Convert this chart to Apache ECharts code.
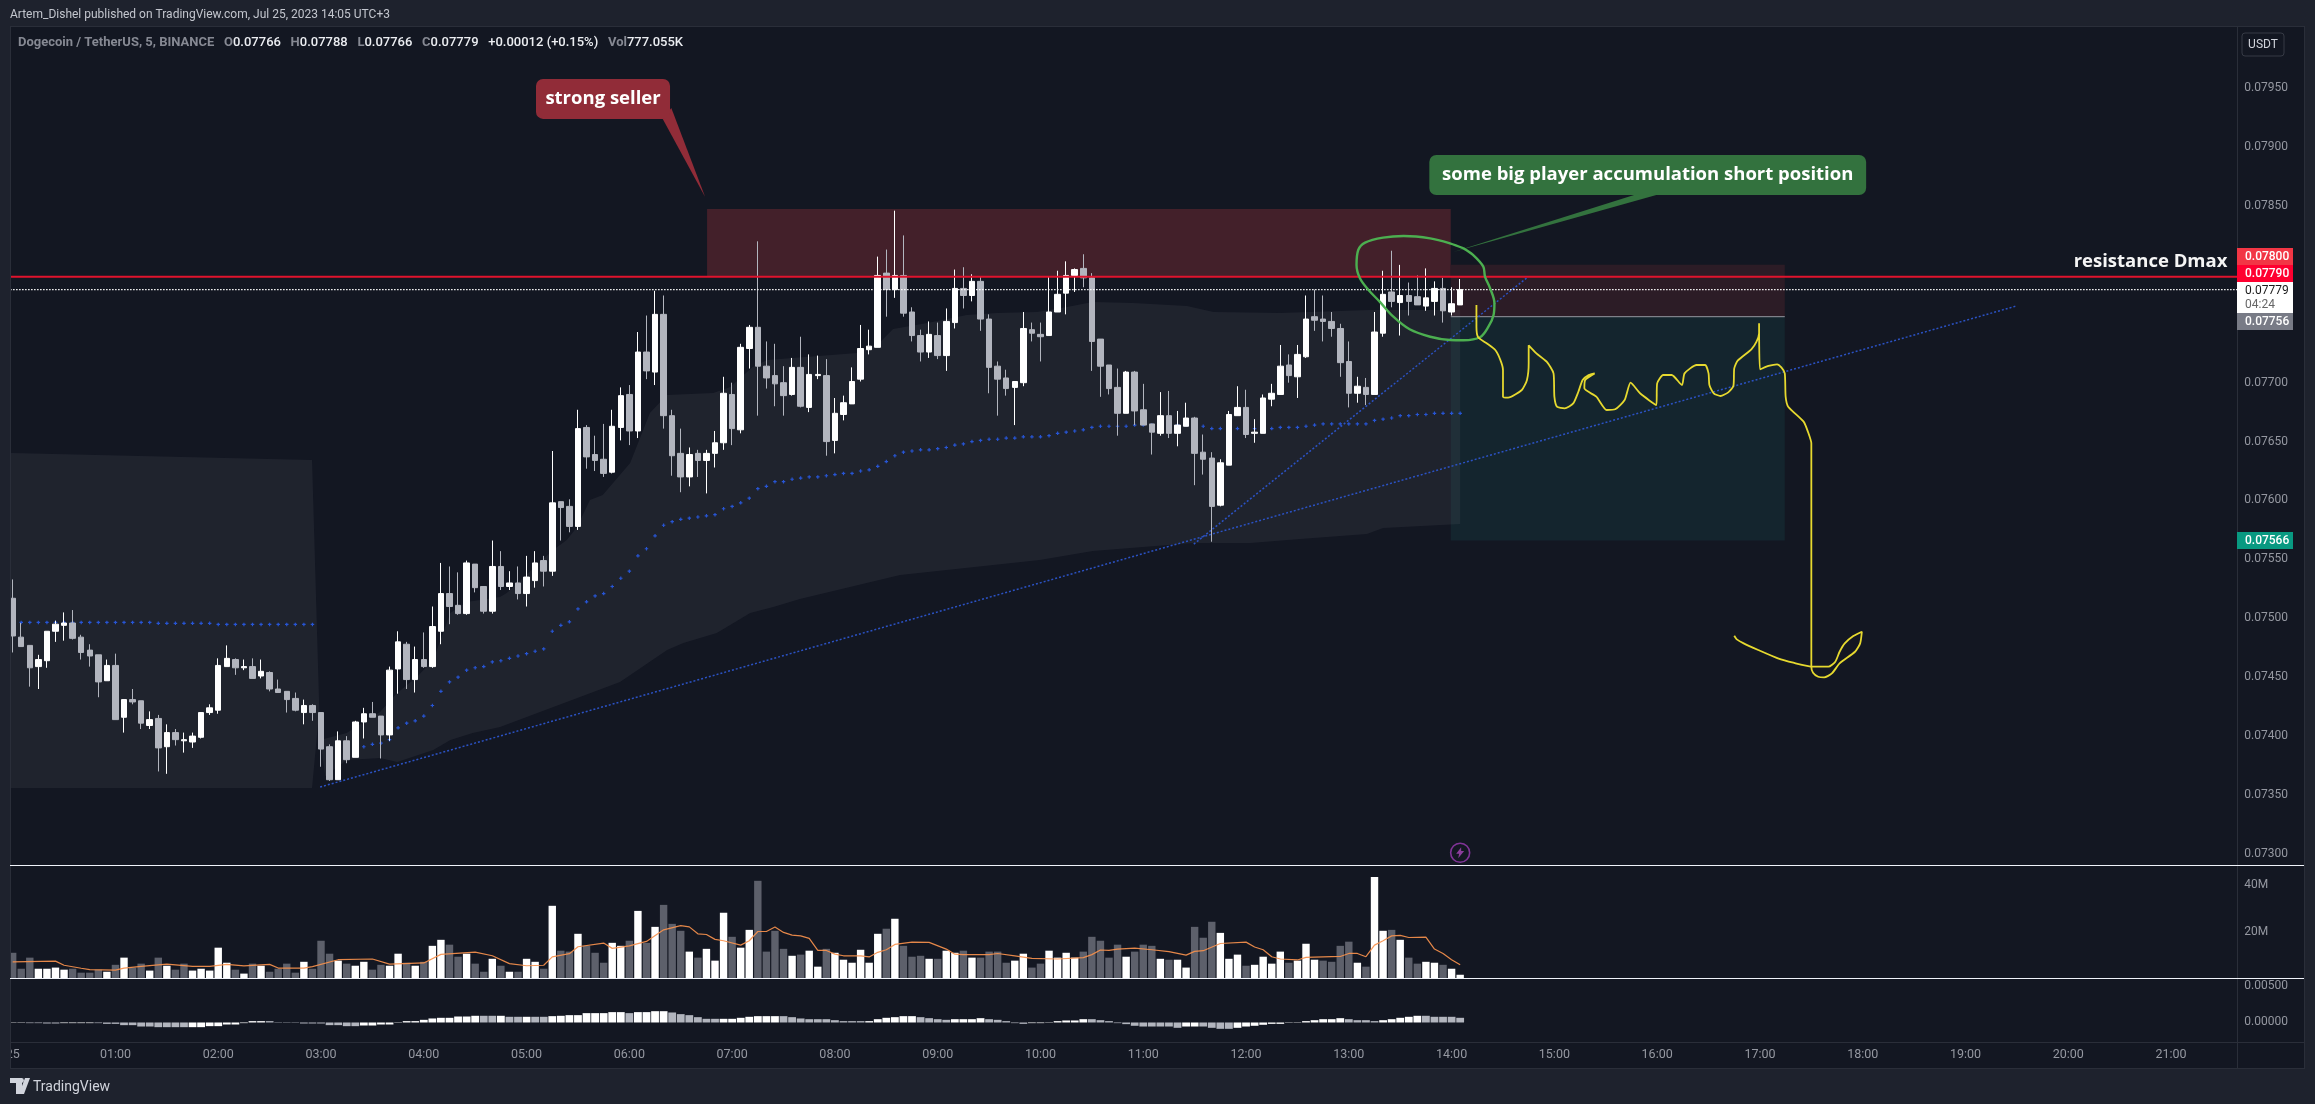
<!DOCTYPE html>
<html><head><meta charset="utf-8">
<style>html,body{margin:0;padding:0;background:#1e222d}#c{width:2315px;height:1104px}</style>
<script src="https://cdn.jsdelivr.net/npm/echarts@6/dist/echarts.min.js"></script>
</head><body><div id="c"></div>
<script>
const hourLabels=['25','01:00','02:00','03:00','04:00','05:00','06:00','07:00','08:00','09:00','10:00','11:00','12:00','13:00','14:00','15:00','16:00','17:00','18:00','19:00','20:00','21:00'];
const priceTicks=[0.0795,0.079,0.0785,0.077,0.0765,0.076,0.0755,0.075,0.0745,0.074,0.0735,0.073];
const volumeTicks=[20,40];
const oscTicks=[0,0.005];

const opens=[0.07517,0.07484,0.07477,0.07459,0.07464,0.07489,0.07494,0.07496,0.07484,0.07473,0.07469,0.07447,0.0746,0.07416,0.07431,0.0743,0.07409,0.07415,0.07391,0.07403,0.07396,0.07395,0.07399,0.0742,0.07422,0.07459,0.07465,0.07458,0.07459,0.07451,0.07454,0.0744,0.07438,0.07432,0.0742,0.07426,0.0742,0.07391,0.07363,0.07396,0.07382,0.07412,0.07419,0.07417,0.07401,0.07457,0.07478,0.07448,0.07465,0.07459,0.07489,0.07521,0.07511,0.07504,0.07546,0.07527,0.07506,0.07544,0.07527,0.0753,0.07521,0.07532,0.07549,0.0754,0.07599,0.07595,0.07578,0.07662,0.07639,0.07635,0.07624,0.07662,0.0769,0.07659,0.07726,0.07709,0.07758,0.07672,0.0764,0.0762,0.0764,0.07634,0.0764,0.07649,0.0769,0.0766,0.07729,0.07747,0.07714,0.07706,0.077,0.0769,0.07713,0.07679,0.07706,0.07706,0.07651,0.07673,0.07682,0.07703,0.07728,0.0773,0.07793,0.07779,0.07791,0.0776,0.0774,0.07726,0.0774,0.07723,0.07751,0.0778,0.07774,0.07786,0.07754,0.07714,0.07704,0.07696,0.077,0.07745,0.07741,0.0774,0.0776,0.07776,0.07791,0.07797,0.07789,0.07737,0.07715,0.07696,0.07674,0.07709,0.07677,0.07665,0.07657,0.07672,0.07657,0.07663,0.0767,0.07641,0.07636,0.07596,0.0763,0.07672,0.07679,0.07657,0.07657,0.07686,0.0769,0.07715,0.07705,0.07722,0.07756,0.07754,0.07752,0.07746,0.07718,0.07691,0.07696,0.0769,0.07742,0.07777,0.07768,0.07774,0.07773,0.07765,0.07769,0.0778,0.0776,0.07766];
const closes=[0.07485,0.07476,0.07458,0.07465,0.07489,0.07495,0.07496,0.07483,0.07471,0.07468,0.07446,0.0746,0.07414,0.07431,0.07429,0.07411,0.07414,0.0739,0.07403,0.07397,0.07397,0.074,0.0742,0.07424,0.0746,0.07466,0.07458,0.07459,0.07449,0.07455,0.0744,0.07437,0.07431,0.07422,0.07426,0.0742,0.07389,0.07363,0.07396,0.0738,0.07412,0.07419,0.07416,0.07401,0.07456,0.0748,0.07448,0.07465,0.07459,0.07493,0.07521,0.0751,0.07504,0.07547,0.07526,0.07506,0.07544,0.07527,0.0753,0.07521,0.07535,0.07547,0.0754,0.07598,0.07594,0.07578,0.07661,0.07637,0.07634,0.07623,0.07663,0.07689,0.07659,0.07726,0.0771,0.07758,0.07672,0.07638,0.0762,0.07639,0.07634,0.0764,0.07649,0.07691,0.07661,0.0773,0.07747,0.07714,0.07704,0.07699,0.07689,0.07713,0.0768,0.07707,0.07707,0.0765,0.07674,0.07683,0.07701,0.07729,0.07731,0.07791,0.07779,0.07791,0.07759,0.0774,0.07726,0.07741,0.07723,0.07752,0.0778,0.07774,0.07786,0.07754,0.07713,0.07703,0.07695,0.07701,0.07746,0.07742,0.07739,0.0776,0.07775,0.07791,0.07796,0.07789,0.07735,0.07714,0.07695,0.07674,0.07709,0.07676,0.07664,0.07658,0.07672,0.07657,0.07664,0.0767,0.0764,0.07635,0.07595,0.07632,0.07673,0.07679,0.07656,0.07658,0.07687,0.07691,0.07714,0.07706,0.07724,0.07754,0.07753,0.07752,0.07746,0.07717,0.07691,0.07697,0.0769,0.07743,0.07775,0.07769,0.07774,0.07769,0.07766,0.07772,0.0778,0.07761,0.07767,0.07779];
const lows=[0.07471,0.07476,0.07442,0.0744,0.07458,0.0748,0.07481,0.07482,0.07465,0.07459,0.07433,0.07447,0.07414,0.07403,0.07427,0.07406,0.07406,0.0737,0.07368,0.07392,0.07386,0.0739,0.07398,0.07418,0.07419,0.07459,0.07452,0.07456,0.07449,0.07449,0.07438,0.07437,0.0742,0.07421,0.0741,0.07413,0.07374,0.07362,0.07363,0.07377,0.07382,0.07398,0.07416,0.07381,0.07396,0.07436,0.0744,0.07437,0.07458,0.07458,0.07478,0.07495,0.07503,0.07503,0.07522,0.07504,0.07504,0.07524,0.07524,0.07516,0.0751,0.07526,0.07527,0.07536,0.07566,0.07573,0.07575,0.07627,0.07625,0.0762,0.07623,0.07651,0.07647,0.07653,0.07703,0.07698,0.07661,0.07621,0.07607,0.07612,0.0762,0.07606,0.07628,0.07643,0.07647,0.07657,0.07712,0.07672,0.07695,0.0768,0.07672,0.07689,0.07679,0.07675,0.07703,0.07638,0.0764,0.07668,0.07682,0.07701,0.07724,0.0773,0.07756,0.07772,0.07756,0.07735,0.07718,0.07721,0.0772,0.0771,0.07746,0.07763,0.07769,0.07744,0.07691,0.07672,0.07689,0.07664,0.07697,0.07735,0.07718,0.0774,0.0776,0.07758,0.07777,0.07781,0.0771,0.07688,0.0769,0.07655,0.07674,0.07664,0.07664,0.07639,0.07655,0.07653,0.07646,0.07663,0.07613,0.07622,0.07565,0.07595,0.0763,0.07672,0.07653,0.07649,0.07657,0.0768,0.0769,0.077,0.07687,0.07721,0.07744,0.07735,0.07739,0.07705,0.07679,0.07683,0.07681,0.0769,0.07739,0.07764,0.0774,0.07757,0.07766,0.07761,0.07757,0.07751,0.07757,0.07766];
const highs=[0.07533,0.07496,0.07477,0.07469,0.07489,0.07498,0.07505,0.07507,0.07486,0.07478,0.07469,0.07465,0.0747,0.07431,0.0744,0.0743,0.07421,0.07418,0.0741,0.07406,0.07403,0.07403,0.0742,0.07427,0.07466,0.07477,0.07466,0.07465,0.07466,0.07465,0.07455,0.07448,0.07438,0.07437,0.07431,0.07427,0.0742,0.07393,0.07404,0.074,0.07413,0.07424,0.07429,0.07417,0.07459,0.07489,0.0748,0.07476,0.07488,0.0751,0.07547,0.07544,0.07539,0.07549,0.07546,0.07527,0.07566,0.07557,0.0754,0.07544,0.07553,0.07557,0.07553,0.07642,0.07599,0.07601,0.07677,0.07664,0.07655,0.07665,0.07677,0.07696,0.07698,0.07743,0.07757,0.07778,0.07774,0.07677,0.07661,0.07645,0.07643,0.07643,0.07659,0.07705,0.077,0.07733,0.07749,0.0782,0.07735,0.07733,0.07714,0.07721,0.07739,0.07724,0.07723,0.0772,0.07687,0.07689,0.07713,0.07749,0.07745,0.07807,0.07813,0.07846,0.07825,0.07764,0.07745,0.07752,0.07751,0.07763,0.07796,0.07798,0.07792,0.0779,0.07758,0.07718,0.07711,0.07701,0.0776,0.07751,0.07751,0.0779,0.07795,0.07803,0.07797,0.07809,0.07793,0.07737,0.07715,0.07712,0.0771,0.0771,0.07699,0.07665,0.07692,0.07693,0.07676,0.07683,0.07671,0.07656,0.07641,0.07635,0.07676,0.07697,0.07694,0.07669,0.0769,0.07699,0.07732,0.07724,0.07732,0.07774,0.07779,0.07774,0.0776,0.0775,0.07735,0.07705,0.07704,0.0776,0.07795,0.07812,0.078,0.07785,0.07791,0.07797,0.07786,0.07789,0.07781,0.07788];
const volumes=[10.9,4.0,8.8,4.0,4.0,4.5,3.6,4.0,2.3,2.3,3.6,2.7,5.7,8.8,4.5,6.2,3.2,8.8,5.3,3.6,6.2,3.2,4.0,3.2,13.1,6.6,3.6,1.9,6.2,5.3,2.7,4.0,6.2,2.3,7.0,4.0,16.1,10.5,7.5,6.2,5.3,7.0,3.6,5.7,5.3,10.5,6.6,5.3,7.0,13.9,16.5,14.4,9.2,10.5,6.2,2.7,8.3,5.3,2.7,2.7,8.3,7.0,4.0,31.2,11.8,11.4,19.1,13.9,10.9,6.6,15.2,13.9,16.1,29.0,15.2,22.1,31.6,23.4,20.4,11.4,8.8,12.6,7.5,28.2,17.8,13.1,20.8,42.0,11.4,20.4,12.6,9.6,10.1,11.8,4.9,12.6,10.9,7.9,6.6,12.2,6.6,19.1,21.3,25.6,13.9,9.2,9.6,8.3,8.3,11.8,10.9,11.8,8.8,8.8,11.4,11.4,6.6,7.5,10.5,4.5,6.2,11.8,8.8,10.9,8.8,11.4,17.8,16.1,8.8,14.4,9.2,11.4,14.4,13.9,8.3,7.9,7.9,4.5,22.1,17.4,24.3,19.5,8.3,10.1,5.3,5.7,9.2,6.2,11.4,6.6,7.5,14.8,7.9,7.5,7.0,13.9,15.7,6.6,4.9,43.7,20.4,20.8,16.5,8.8,6.2,7.0,6.6,5.7,4.0,1.4];
const volumeColorExceptions=[20,152];
const volumeMaBars=[0,5,6,8,9,12,13,15,18,21,23,25,27,30,31,34,35,38,42,44,48,50,54,56,58,60,62,63,65,66,69,70,72,74,76,78,79,80,81,82,83,85,86,87,88,89,90,91,92,93,94,95,96,97,99,100,101,102,103,105,107,109,110,111,114,115,117,119,122,125,126,127,128,129,131,133,135,137,138,139,141,144,145,146,147,148,150,151,154,155,156,157,158,159,160,161,162,163,165,166,167,168,169];
const volumeMaValues=[7.0,7.3,5.5,4.2,3.6,3.4,4.3,5.0,6.0,5.0,5.0,5.9,5.2,5.9,4.3,4.3,4.9,7.9,8.2,6.0,6.5,10.2,11.2,9.6,6.2,5.3,5.5,9.1,10.5,13.5,15.1,12.8,13.9,15.8,20.8,22.6,22.1,19.1,18.8,16.7,16.1,14.2,16.1,20.1,20.1,22.0,19.7,18.5,18.2,17.1,11.9,11.9,10.3,9.6,9.6,9.1,11.1,12.2,14.5,15.5,15.4,12.5,10.3,10.1,10.1,10.6,9.6,8.5,8.2,8.8,10.1,12.1,11.9,12.5,12.9,12.2,11.4,9.9,11.5,11.8,14.9,15.5,13.4,12.2,9.2,8.2,7.8,8.9,9.2,9.3,10.6,10.6,9.2,14.2,16.1,18.2,18.4,17.5,17.7,12.5,10.6,7.9,5.7];
const oscValues=[-0.00005,-0.00005,-0.00009,-0.00009,-0.00014,-0.00014,-0.00009,-0.00009,-0.00009,-0.00009,-0.00009,-0.00019,-0.00019,-0.00037,-0.00037,-0.00056,-0.00056,-0.00065,-0.00065,-0.00065,-0.00065,-0.00065,-0.00065,-0.00051,-0.00051,-0.00028,-0.00028,-0.00009,0.00019,0.00019,0.00019,0.00005,0.00005,0.00005,-0.00014,-0.00014,-0.00014,-0.00037,-0.00037,-0.00051,-0.00051,-0.00042,-0.00042,-0.00028,-0.00028,-0.00005,0.00019,0.00019,0.00037,0.00056,0.00065,0.00065,0.00083,0.00083,0.00093,0.00093,0.00093,0.00093,0.00079,0.00079,0.00079,0.00079,0.00079,0.00088,0.00093,0.00102,0.00102,0.0013,0.0013,0.0013,0.00144,0.00144,0.0013,0.00144,0.00144,0.00157,0.00157,0.00139,0.00116,0.00102,0.00074,0.00051,0.00051,0.00051,0.00051,0.00065,0.00079,0.00088,0.00088,0.00088,0.00088,0.00074,0.00056,0.00046,0.00046,0.00046,0.00032,0.00019,0.00019,0.00019,0.00019,0.00046,0.00065,0.00074,0.00088,0.00088,0.00074,0.0006,0.00046,0.00037,0.00046,0.00046,0.00046,0.0006,0.00046,0.00037,0.00019,-0.00009,-0.00019,-0.00009,-0.00009,0.00005,0.00019,0.00028,0.00028,0.00046,0.00046,0.00032,0.00019,-0.00009,-0.00023,-0.00046,-0.00056,-0.00056,-0.00056,-0.00056,-0.00074,-0.00056,-0.00056,-0.00056,-0.00074,-0.00088,-0.00088,-0.00074,-0.00056,-0.00046,-0.00032,-0.00019,-0.00019,-0.00005,0.00005,0.00019,0.00032,0.00046,0.00046,0.0006,0.00046,0.00032,0.00032,0.00019,0.00032,0.00046,0.00065,0.00079,0.00093,0.00093,0.00079,0.00079,0.00079,0.00065];
const oscFadingRanges=[[2,5],[10,20],[30,40],[55,56],[58,59],[61,62],[72,72],[77,82],[90,99],[106,109],[114,118],[126,136],[139,142],[156,159],[165,169]];

const vwapFirstBars=[1,35];
const vwapFirst=[0.074965,0.074965,0.074965,0.074965,0.074965,0.074965,0.074965,0.074965,0.074965,0.074965,0.074965,0.074965,0.074965,0.074965,0.074965,0.074965,0.074957,0.074957,0.074957,0.074957,0.074957,0.074957,0.074957,0.074948,0.074948,0.074948,0.074948,0.074948,0.074948,0.074948,0.074948,0.074948,0.074948,0.074948,0.074948];
const vwapSecondStart=41;
const vwapSecond=[0.07391,0.07393,0.07394,0.07397,0.07407,0.07411,0.07413,0.07417,0.07426,0.07438,0.07446,0.0745,0.07456,0.07458,0.07459,0.07463,0.07464,0.07466,0.07468,0.0747,0.07472,0.07474,0.07489,0.07494,0.07497,0.07508,0.07514,0.07519,0.07521,0.07527,0.07534,0.0754,0.07553,0.07559,0.0757,0.07579,0.07582,0.07584,0.07585,0.07586,0.07587,0.07588,0.07593,0.07595,0.07598,0.07602,0.0761,0.07612,0.07616,0.07616,0.07618,0.07619,0.0762,0.0762,0.07621,0.07622,0.07623,0.07623,0.07625,0.07626,0.07629,0.07633,0.07638,0.07641,0.07642,0.07643,0.07643,0.07644,0.07645,0.07647,0.07648,0.0765,0.07651,0.07652,0.07652,0.07653,0.07653,0.07654,0.07654,0.07654,0.07655,0.07657,0.07658,0.07659,0.0766,0.07662,0.07663,0.07663,0.07663,0.07663,0.07664,0.07664,0.07664,0.07664,0.07664,0.07664,0.07664,0.07664,0.07663,0.07661,0.07661,0.07661,0.07661,0.07661,0.07661,0.07661,0.07661,0.07662,0.07662,0.07662,0.07663,0.07664,0.07665,0.07665,0.07665,0.07665,0.07665,0.07665,0.07668,0.07669,0.0767,0.07672,0.07672,0.07673,0.07673,0.07674,0.07674,0.07674,0.07674];

const bandOne=[[-0.2,0.076403],[34.95,0.076344],[35.8,0.074222],[34.95,0.07356],[-0.2,0.07356]];
const bandTwoUpper=[[35.9,0.073967],[39,0.074026],[42.9,0.074205],[44.9,0.074366],[47.2,0.074502],[49.1,0.074646],[51.1,0.075045],[53,0.075138],[56.9,0.075181],[57.7,0.075215],[63.1,0.07558],[64.7,0.075665],[65.9,0.075775],[67.4,0.076004],[68.9,0.076047],[72.1,0.076318],[74.4,0.076743],[76.4,0.076896],[81.8,0.076913],[83.8,0.076963],[86.4,0.077133],[88.1,0.077193],[89.6,0.077201],[98.6,0.077252],[101.3,0.077346],[102.8,0.077456],[106.8,0.077507],[111.4,0.077575],[114.9,0.077592],[119.6,0.0776],[123.1,0.077643],[126.1,0.077685],[130.8,0.077677],[137.1,0.077651],[140.2,0.0776],[148,0.077592],[158.5,0.077617],[169,0.077617]];
const bandTwoLower=[[169,0.0758],[160,0.075767],[158.1,0.075716],[150.3,0.075673],[144.5,0.075639],[137.8,0.075639],[126.1,0.075571],[119.9,0.075495],[103.6,0.075368],[91.9,0.075164],[88.8,0.075096],[86.1,0.075045],[82.2,0.074875],[78.3,0.07479],[76.4,0.074731],[70.9,0.07446],[56.9,0.074077],[53.7,0.074026],[51.1,0.073967],[49.1,0.073882],[44.9,0.07378],[42.9,0.073814],[39,0.073797],[36.5,0.07366]];

const sellerZoneBars=[81.07,167.9];
const sellerZonePrices=[0.0779,0.078475];
const positionBars=[167.9,206.9];
const positionTop=0.078;
const positionEntry=0.07756;
const positionTarget=0.07566;
const resistancePrice=0.0779;
const lastPrice=0.07779;
const trendOne=[[35.9,0.073568],[233.9,0.07765]];
const trendTwo=[[137.9,0.07563],[176.9,0.077897]];
const ellipse=[[169.4,0.07814],[167.8,0.078183],[165.5,0.078225],[162.4,0.078245],[160,0.078231],[157.9,0.078189],[157.1,0.078126],[156.9,0.077999],[157.3,0.077886],[158.3,0.077787],[159.6,0.077688],[161.2,0.07756],[163.1,0.077453],[165.5,0.07739],[167.8,0.077362],[169.4,0.07736],[171.3,0.077385],[172.3,0.077475],[172.9,0.077574],[173,0.077674],[172.5,0.077801],[171.9,0.0779],[171.7,0.077985],[170.5,0.078084],[169.4,0.07814]];
const pathSketch=[[170.9,0.077659],[170.9,0.077475],[171.1,0.077385],[172.1,0.077334],[173.1,0.077277],[173.7,0.077192],[174,0.077108],[174,0.076881],[174.6,0.076873],[176.2,0.076938],[176.8,0.077023],[177,0.077164],[177,0.077317],[177.9,0.077249],[179.1,0.077178],[179.9,0.077079],[180,0.076881],[180.3,0.076796],[181.2,0.076782],[182.2,0.076824],[182.8,0.076923],[183.3,0.077023],[184,0.077065],[184.7,0.077079],[183.6,0.077023],[183.5,0.076952],[184.9,0.076881],[186.1,0.076768],[187.1,0.076774],[188.2,0.076853],[188.9,0.077],[190,0.07691],[191.9,0.07681],[192,0.076994],[192.7,0.077065],[193.7,0.077065],[194.9,0.07698],[195.2,0.077079],[196.6,0.07715],[197.6,0.07715],[198,0.077079],[198.1,0.07698],[198.6,0.07691],[199.4,0.076887],[200.3,0.076918],[200.9,0.076972],[201,0.077122],[201.4,0.077187],[203,0.077283],[203.6,0.077348],[203.9,0.077419],[203.9,0.077504],[204,0.077113],[205,0.077142],[206,0.077156],[206.5,0.07713],[206.9,0.077079],[207,0.076881],[207.3,0.076796],[209.1,0.076669],[209.6,0.076584],[210,0.076485],[210,0.074589],[210.2,0.074538],[210.8,0.074504],[211.5,0.074498],[212.4,0.074532],[213.3,0.074617],[215.1,0.074716],[215.7,0.074787],[215.9,0.074886],[214.9,0.074849],[213.9,0.074787],[213.3,0.074716],[212.8,0.074631],[212,0.074589],[210.2,0.074589],[207.9,0.074623],[206.1,0.07466],[203.8,0.074731],[202.1,0.074787],[201.3,0.074821],[201,0.074852]];

const font='Roboto, sans-serif';
const BG='#131722', PAGE='#1e222d', LINE='#2a2e39', AXIS='#9598a1';
const upColor='#ffffff', downColor='#b2b5be', volDown='#5d606b';

const chart=echarts.init(document.getElementById('c'),null,{renderer:'canvas'});
const LEFT=12.67, PLOT_W=2224.6, N_MAX=259.73;

function rectSeries(name,bars,p0,p1,fill,z){
  return {type:'custom',name,xAxisIndex:0,yAxisIndex:0,silent:true,z,
    data:[[bars[0],p0,bars[1],p1]],encode:{x:[0,2],y:[1,3]},
    renderItem(params,api){
      const a=api.coord([api.value(0),api.value(3)]),b=api.coord([api.value(2),api.value(1)]);
      return {type:'rect',shape:{x:a[0],y:a[1],width:b[0]-a[0],height:b[1]-a[1]},style:{fill}};
    }};
}
function polySeries(name,points,fill,z){
  return {type:'custom',name,xAxisIndex:0,yAxisIndex:0,silent:true,z,
    data:points,encode:{x:0,y:1},
    renderItem(params,api){
      if(params.dataIndex>0) return null;
      return {type:'polygon',shape:{points:points.map(p=>api.coord(p))},style:{fill}};
    }};
}
function lineSeries(name,data,style,z,smooth){
  return {type:'line',name,xAxisIndex:0,yAxisIndex:0,silent:true,z,data,symbol:'none',clip:false,smooth:smooth||false,lineStyle:style};
}
function callout(name,box,tail,label,fill,fontSize,z){
  return {type:'custom',name,xAxisIndex:0,yAxisIndex:0,silent:true,z,
    data:[[box[0],box[2],box[1],box[3]]],encode:{x:[0,2],y:[1,3]},
    renderItem(params,api){
      const a=api.coord([box[0],box[3]]),b=api.coord([box[1],box[2]]);
      const m=api.coord([(box[0]+box[1])/2,(box[2]+box[3])/2]);
      return {type:'group',children:[
        {type:'polygon',shape:{points:tail.map(p=>api.coord(p))},style:{fill}},
        {type:'rect',shape:{x:a[0],y:a[1],width:b[0]-a[0],height:b[1]-a[1],r:7},style:{fill}},
        {type:'text',style:{text:label,x:m[0],y:m[1],align:'center',verticalAlign:'middle',fill:'#ffffff',font:'700 '+fontSize+'px "Open Sans", sans-serif'}}
      ]};
    }};
}

const candleData=opens.map((o,i)=>[i,o,closes[i],lows[i],highs[i]]);
const volumeData=volumes.map((v,i)=>{
  const falling=closes[i]<opens[i];
  const flip=volumeColorExceptions.includes(i);
  const grey=flip?!falling:falling;
  return {value:[i,v],itemStyle:{color:grey?volDown:upColor}};
});
const oscData=oscValues.map((v,i)=>{
  const fading=oscFadingRanges.some(r=>i>=r[0]&&i<=r[1]);
  return {value:[i,v],itemStyle:{color:fading?downColor:upColor}};
});
const crossPath='path://M2 0H4V2H6V4H4V6H2V4H0V2H2Z';

const option={
  animation:false,
  backgroundColor:PAGE,
  title:[
    {left:10,top:9,padding:0,text:'Artem_Dishel published on TradingView.com, Jul 25, 2023 14:05 UTC+3',textStyle:{color:'#c3c6ce',fontFamily:font,fontSize:12,fontWeight:400}},
    {left:18,top:36,padding:0,text:'{g|Dogecoin / TetherUS, 5, BINANCE   O}{w|0.07766}{g|   H}{w|0.07788}{g|   L}{w|0.07766}{g|   C}{w|0.07779}{w|   +0.00012 (+0.15%)}{g|   Vol}{w|777.055K}',
      textStyle:{fontFamily:font,fontSize:13,rich:{g:{color:'#868993',fontFamily:font,fontSize:13},w:{color:'#eceef2',fontFamily:font,fontSize:13,fontWeight:500}}}}
  ],
  grid:[
    {left:LEFT,top:27,width:PLOT_W,height:838},
    {left:LEFT,top:866,width:PLOT_W,height:112},
    {left:LEFT,top:979,width:PLOT_W,height:63}
  ],
  xAxis:[0,1,2].map(g=>({
    type:'value',gridIndex:g,min:0,max:N_MAX,interval:12,
    splitLine:{show:false},axisLine:{show:false},axisTick:{show:false},
    axisLabel:{show:g===2,showMinLabel:true,showMaxLabel:false,color:AXIS,fontFamily:font,fontSize:12.5,margin:6,
      formatter:v=>hourLabels[v/12]||''}
  })),
  yAxis:[
    {type:'value',gridIndex:0,position:'right',min:0.072906,max:0.080019,splitLine:{show:false},axisLine:{show:false},axisTick:{show:false},
      axisLabel:{customValues:priceTicks,color:AXIS,fontFamily:font,fontSize:12,margin:7,align:'left',formatter:v=>v.toFixed(5)}},
    {type:'value',gridIndex:1,position:'right',min:0,max:48.4,splitLine:{show:false},axisLine:{show:false},axisTick:{show:false},
      axisLabel:{customValues:volumeTicks,color:AXIS,fontFamily:font,fontSize:12,margin:7,align:'left',formatter:v=>v+'M'}},
    {type:'value',gridIndex:2,position:'right',min:-0.00271,max:0.00604,splitLine:{show:false},axisLine:{show:false},axisTick:{show:false},
      axisLabel:{customValues:oscTicks,color:AXIS,fontFamily:font,fontSize:12,margin:7,align:'left',formatter:v=>v.toFixed(5)}}
  ],
  series:[
    rectSeries('seller zone',sellerZoneBars,sellerZonePrices[0],sellerZonePrices[1],'#43202a',1),
    rectSeries('position risk',positionBars,positionEntry,positionTop,'#2c1c26',1),
    rectSeries('position reward',positionBars,positionTarget,positionEntry,'#14252e',1),
    polySeries('session band one',bandOne,'rgba(120,123,134,0.12)',1),
    polySeries('session band two',bandTwoUpper.concat(bandTwoLower),'rgba(120,123,134,0.12)',1),
    lineSeries('entry',[[positionBars[0],positionEntry],[positionBars[1],positionEntry]],{color:'#9598a1',width:1},1.5),
    lineSeries('trend one',trendOne,{color:'#2b52c4',width:1.5,type:[2,2]},2),
    lineSeries('trend two',trendTwo,{color:'#2b52c4',width:1.5,type:[2,2]},2),
    {type:'scatter',name:'vwap one',xAxisIndex:0,yAxisIndex:0,silent:true,z:2,symbol:crossPath,symbolSize:3.5,itemStyle:{color:'#2962ff'},
      data:vwapFirst.map((v,i)=>[vwapFirstBars[0]+i,v])},
    {type:'scatter',name:'vwap two',xAxisIndex:0,yAxisIndex:0,silent:true,z:2,symbol:crossPath,symbolSize:3.5,itemStyle:{color:'#2962ff'},
      data:vwapSecond.map((v,i)=>[vwapSecondStart+i,v])},
    {type:'candlestick',name:'DOGEUSDT',xAxisIndex:0,yAxisIndex:0,silent:true,z:3,clip:false,barWidth:6,
      encode:{x:0,y:[1,2,3,4]},data:candleData,
      itemStyle:{color:upColor,color0:downColor,borderColor:upColor,borderColor0:downColor,borderWidth:1}},
    lineSeries('resistance',[[-0.3,resistancePrice],[N_MAX,resistancePrice]],{color:'#e0132d',width:2},4),
    lineSeries('last price',[[-0.3,lastPrice],[N_MAX,lastPrice]],{color:'#ffffff',width:1.4,type:[1.5,1.5]},4),
    lineSeries('ellipse',ellipse,{color:'#4caf50',width:2.4},5,0.35),
    lineSeries('path sketch',pathSketch,{color:'#e6d92f',width:1.8},5,0.2),
    callout('strong seller',[61.1,76.75,0.079239,0.079578],[[75.9,0.079239],[76.9,0.079332],[80.85,0.078576]],'strong seller','#912c38',18.5,5),
    callout('short note',[165.4,216.4,0.078593,0.078933],[[189.3,0.078593],[191.9,0.078593],[168.2,0.078109]],'some big player accumulation short position','#33723e',18.5,5),
    {type:'custom',name:'resistance label',xAxisIndex:0,yAxisIndex:0,silent:true,z:5,data:[[249.6,0.078025]],encode:{x:0,y:1},
      renderItem(params,api){const c=api.coord([api.value(0),api.value(1)]);
        return {type:'text',style:{text:'resistance Dmax',x:c[0],y:c[1],align:'center',verticalAlign:'middle',fill:'#f5f5f5',font:'700 18.5px "Open Sans", sans-serif'}};}},
    {type:'scatter',name:'event ring',xAxisIndex:0,yAxisIndex:0,silent:true,z:5,symbol:'circle',symbolSize:19,itemStyle:{color:'rgba(0,0,0,0)',borderColor:'#9c3bb5',borderWidth:1.6},data:[[169,0.07301]]},
    {type:'scatter',name:'event bolt',xAxisIndex:0,yAxisIndex:0,silent:true,z:5,symbol:'path://M6 0L1 7H4L3 12L9 4H6Z',symbolSize:[8,11],itemStyle:{color:'#ab47bc'},data:[[169,0.07301]]},

    {type:'bar',name:'Volume',xAxisIndex:1,yAxisIndex:1,silent:true,barWidth:7.4,z:2,data:volumeData},
    {type:'line',name:'Volume MA',xAxisIndex:1,yAxisIndex:1,silent:true,z:3,symbol:'none',data:volumeMaBars.map((b,i)=>[b,volumeMaValues[i]]),lineStyle:{color:'#f7914d',width:1.2,opacity:0.92}},
    {type:'bar',name:'Oscillator',xAxisIndex:2,yAxisIndex:2,silent:true,barWidth:7.8,z:2,data:oscData}
  ],
  graphic:[
    {type:'rect',z:-1,silent:true,shape:{x:10,y:27,width:2294,height:1041},style:{fill:BG}},
    {type:'rect',z:100,silent:true,shape:{x:0,y:0,width:10,height:1104},style:{fill:PAGE}},
    {type:'rect',z:100,silent:true,shape:{x:10,y:27,width:1,height:1041},style:{fill:LINE}},
    {type:'rect',z:100,silent:true,shape:{x:10,y:26,width:2295,height:1},style:{fill:LINE}},
    {type:'rect',z:100,silent:true,shape:{x:2304,y:26,width:1,height:1043},style:{fill:LINE}},
    {type:'rect',z:100,silent:true,shape:{x:10,y:1068,width:2295,height:1},style:{fill:LINE}},
    {type:'rect',z:100,silent:true,shape:{x:2237,y:27,width:1,height:1041},style:{fill:LINE}},
    {type:'rect',z:100,silent:true,shape:{x:10,y:1042,width:2294,height:1},style:{fill:LINE}},
    {type:'rect',z:101,silent:true,shape:{x:10,y:865,width:2294,height:1},style:{fill:'#f0f3fa'}},
    {type:'rect',z:101,silent:true,shape:{x:10,y:978,width:2294,height:1},style:{fill:'#f0f3fa'}},

    {type:'rect',z:102,silent:true,shape:{x:2242,y:33,width:42,height:23,r:3},style:{fill:BG,stroke:'#363a45',lineWidth:1}},
    {type:'text',z:103,silent:true,style:{x:2263,y:44.5,text:'USDT',align:'center',verticalAlign:'middle',fill:'#d1d4dc',font:'12px '+font}},

    {type:'rect',z:102,silent:true,shape:{x:2237,y:248,width:56,height:17},style:{fill:'#f23645'}},
    {type:'text',z:103,silent:true,style:{x:2245,y:256.5,text:'0.07800',verticalAlign:'middle',fill:'#ffffff',font:'500 12px '+font}},
    {type:'rect',z:102,silent:true,shape:{x:2237,y:265,width:56,height:17},style:{fill:'#ff0030'}},
    {type:'text',z:103,silent:true,style:{x:2245,y:273.5,text:'0.07790',verticalAlign:'middle',fill:'#ffffff',font:'500 12px '+font}},
    {type:'rect',z:102,silent:true,shape:{x:2237,y:282,width:56,height:31},style:{fill:'#ffffff'}},
    {type:'text',z:103,silent:true,style:{x:2245,y:290.5,text:'0.07779',verticalAlign:'middle',fill:'#1a1a1a',font:'12px '+font}},
    {type:'text',z:103,silent:true,style:{x:2245,y:305,text:'04:24',verticalAlign:'middle',fill:'#666666',font:'12px '+font}},
    {type:'rect',z:102,silent:true,shape:{x:2237,y:313,width:56,height:17},style:{fill:'#787b86'}},
    {type:'text',z:103,silent:true,style:{x:2245,y:321.5,text:'0.07756',verticalAlign:'middle',fill:'#ffffff',font:'500 12px '+font}},
    {type:'rect',z:102,silent:true,shape:{x:2237,y:532,width:56,height:17},style:{fill:'#089981'}},
    {type:'text',z:103,silent:true,style:{x:2245,y:540.5,text:'0.07566',verticalAlign:'middle',fill:'#ffffff',font:'500 12px '+font}},

    {type:'polygon',z:103,silent:true,shape:{points:[[10,1078],[22,1078],[22,1094],[16,1094],[16,1083],[10,1083]]},style:{fill:'#d1d4dc'}},
    {type:'circle',z:103,silent:true,shape:{cx:21.5,cy:1080.5,r:2.4},style:{fill:'#d1d4dc'}},
    {type:'polygon',z:103,silent:true,shape:{points:[[25,1078],[30,1078],[24,1094],[19,1094]]},style:{fill:'#d1d4dc'}},
    {type:'text',z:103,silent:true,style:{x:33,y:1087,text:'TradingView',verticalAlign:'middle',fill:'#d1d4dc',font:'14px '+font}}
  ]
};
chart.setOption(option);
</script></body></html>
